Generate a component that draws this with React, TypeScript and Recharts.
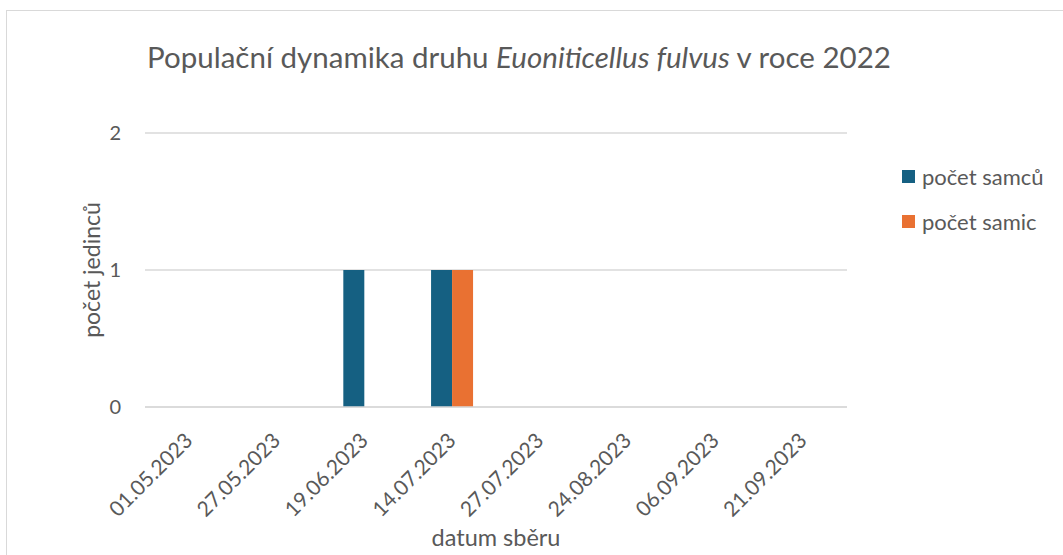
import { BarChart, Bar, XAxis, YAxis, CartesianGrid, Legend } from 'recharts';

const dates = [
    '01.05.2023',
    '27.05.2023',
    '19.06.2023',
    '14.07.2023',
    '27.07.2023',
    '24.08.2023',
    '06.09.2023',
    '21.09.2023',
];
const males = [0, 0, 1, 1, 0, 0, 0, 0];
const females = [0, 0, 0, 1, 0, 0, 0, 0];
const yTicks = [0, 1, 2];

const BLUE = '#156082';
const ORANGE = '#E97132';
const TEXT = '#595959';
const GRID = '#d9d9d9';
const FONT = 'Lato, "Open Sans", sans-serif';

const data = dates.map((d, i) => ({ date: d, samci: males[i], samice: females[i] }));

const DateTick = ({ x, y, payload }: { x: number; y: number; payload: { value: string } }) => {
    const tx = x + 5;
    const ty = y + 27;
    return (
        <text
            x={tx}
            y={ty}
            transform={`rotate(-45, ${tx}, ${ty})`}
            textAnchor="end"
            fill={TEXT}
            fontSize={21}
            fontFamily={FONT}
        >
            {payload.value}
        </text>
    );
};

const LegendBox = () => (
    <div style={{ fontFamily: FONT, fontSize: 22, color: TEXT }}>
        {[
            { color: BLUE, label: 'počet samců' },
            { color: ORANGE, label: 'počet samic' },
        ].map((item) => (
            <div key={item.label} style={{ display: 'flex', alignItems: 'center', height: 45 }}>
                <div style={{ width: 13, height: 13, background: item.color, marginRight: 7 }} />
                <span>{item.label}</span>
            </div>
        ))}
    </div>
);

export default function App() {
    return (
        <div style={{ position: 'fixed', left: 0, top: 0, width: 1063, height: 555, overflow: 'hidden', background: '#fff' }}>
            {/* chart frame, runs off the right and bottom edge */}
            <div
                style={{
                    position: 'absolute',
                    left: 6,
                    top: 10,
                    width: 1100,
                    height: 600,
                    border: `1.5px solid ${GRID}`,
                }}
            />
            <div
                style={{
                    position: 'absolute',
                    left: 0,
                    width: 1038,
                    top: 39,
                    textAlign: 'center',
                    fontFamily: FONT,
                    fontSize: 29.5,
                    color: TEXT,
                }}
            >
                Populační dynamika druhu <i>Euoniticellus fulvus</i> v roce 2022
            </div>
            <div style={{ position: 'absolute', left: 0, top: 0 }}>
                <BarChart
                    width={1063}
                    height={555}
                    data={data}
                    margin={{ top: 133, right: 56, left: 0, bottom: 0 }}
                    barGap={0}
                    barCategoryGap="26%"
                >
                    <CartesianGrid stroke={GRID} strokeWidth={1.5} vertical={false} />
                    <XAxis
                        dataKey="date"
                        height={148}
                        interval={0}
                        axisLine={{ stroke: GRID, strokeWidth: 1.5 }}
                        tickLine={false}
                        tick={DateTick}
                        label={{
                            value: 'datum sběru',
                            position: 'insideBottom',
                            offset: 9,
                            fill: TEXT,
                            fontSize: 23.5,
                            fontFamily: FONT,
                        }}
                    />
                    <YAxis
                        width={145}
                        domain={[0, 2]}
                        ticks={yTicks}
                        axisLine={false}
                        tickLine={false}
                        tickMargin={18}
                        tick={{ fill: TEXT, fontSize: 20, fontFamily: FONT }}
                        label={{
                            value: 'počet jedinců',
                            angle: -90,
                            position: 'insideLeft',
                            offset: 92,
                            style: { textAnchor: 'middle' },
                            fill: TEXT,
                            fontSize: 23,
                            fontFamily: FONT,
                        }}
                    />
                    <Legend
                        layout="vertical"
                        verticalAlign="top"
                        align="right"
                        content={<LegendBox />}
                        wrapperStyle={{ left: 902, top: 154, width: 160 }}
                    />
                    <Bar dataKey="samci" name="počet samců" fill={BLUE} isAnimationActive={false} />
                    <Bar dataKey="samice" name="počet samic" fill={ORANGE} isAnimationActive={false} />
                </BarChart>
            </div>
        </div>
    );
}
